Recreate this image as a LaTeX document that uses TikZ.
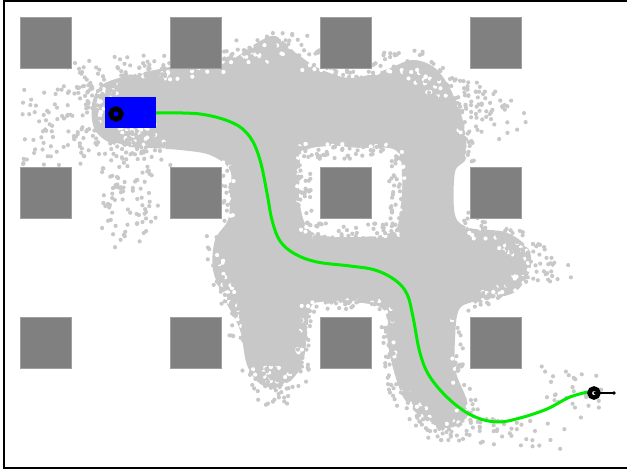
\documentclass[tikz,border=0pt]{standalone}
\definecolor{cloudc}{RGB}{200,200,200}
\definecolor{obst}{RGB}{128,128,128}
\definecolor{obstedge}{RGB}{160,160,160}
\definecolor{pathg}{RGB}{0,235,0}
\definecolor{robotb}{RGB}{0,0,255}
\newcommand\cloudfringe[7][cloudc]{%
  \pgfmathtruncatemacro\cnt{max(1,#7)}%
  \foreach \i in {1,...,\cnt}{%
    \pgfmathsetmacro\myt{rnd}%
    \pgfmathsetmacro\px{#2+(#4-#2)*\myt+(#6)*rand}%
    \pgfmathsetmacro\py{#3+(#5-#3)*\myt+(#6)*rand}%
    \fill[#1] (\px,\py) circle (2.1pt);
  }}
\newcommand\seglist{%
 150/72/240/58/16/60,
 240/55/300/45/16/50,
 300/62/410/65/14/70,
 410/62/460/100/16/45,
 455/95/515/125/18/70,
 460/130/470/160/10/20,
 470/225/530/255/16/55,
 520/240/560/282/14/35,
 530/270/470/305/11/40,
 455/320/458/380/7/22,
 460/395/470/420/12/25,
 420/425/555/438/14/70,
 545/382/598/400/18/30,
 388/310/395/390/8/35,
 395/390/430/425/10/30,
 310/303/385/303/7/40,
 307/305/300/370/8/28,
 250/372/300/380/15/50,
 258/395/290/402/11/15,
 215/240/240/340/11/55,
 228/165/230/220/7/22,
 303/150/398/150/9/50,
 398/150/398/232/9/40,
 398/232/303/232/9/50,
 303/232/303/150/9/40,
 60/125/60/125/40/100,
 90/80/150/150/28/200,
 130/162/130/222/28/90,
 110/65/160/72/10/25}
\begin{document}
\begin{tikzpicture}[x=1pt,y=-1pt]
\useasboundingbox (0,0) rectangle (627,470);
\pgfmathsetseed{7}
% dense cloud
\fill[cloudc] plot[smooth cycle, tension=0.55] coordinates {
 (130,75) (165,68) (200,60) (235,57) (255,44) (275,36) (295,52) (318,68)
 (350,78) (385,70) (412,60) (435,68) (452,92) (464,125) (466,158) (455,172)
 (455,215) (470,228) (505,232) (528,248) (530,270) (515,292) (485,300)
 (460,308) (455,340) (456,372) (466,398) (468,418) (448,428) (425,420)
 (405,400) (395,375) (388,345) (386,315) (375,305) (340,302) (312,305)
 (307,335) (302,365) (285,385) (262,385) (247,365) (240,330) (225,300)
 (213,270) (215,240) (228,220) (230,195) (230,170) (210,155) (180,150)
 (150,148) (115,145) (95,130) (92,105) (102,85)};
% hole around centre obstacle
\fill[white] plot[smooth cycle, tension=0.6] coordinates {
 (303,152) (330,146) (360,148) (395,150) (402,175) (400,210) (392,232)
 (350,237) (312,232) (300,205) (300,175)};
% white speckles along the edges, then grey fringe samples
\foreach \a/\b/\c/\d/\s/\n in \seglist {\cloudfringe[white]{\a}{\b}{\c}{\d}{0.7*\s}{\n/2}}
\foreach \a/\b/\c/\d/\s/\n in \seglist {\cloudfringe{\a}{\b}{\c}{\d}{\s}{\n}}
% obstacles
\foreach \x in {20,170,320,470}
  \foreach \y in {17,167,317}
    \filldraw[fill=obst,draw=obstedge,line width=0.8pt] (\x,\y) rectangle ++(51,51);
% planned path
\draw[pathg, line width=3pt, line cap=round] plot[smooth, tension=0.6] coordinates {
 (156,113) (200,114) (233,123) (250,137) (260,160) (267,193) (272,220)
 (280,241) (295,254) (317,262) (350,266) (375,270) (395,280) (407,294)
 (413,317) (420,353) (430,377) (450,400) (473,416) (497,422) (520,418)
 (547,409) (570,397) (592,391)};
% start robot
\fill[robotb] (105,97) rectangle (156,128);
\coordinate (startc) at (116,114);
\draw[line width=4.8pt] (startc) circle (5.2pt);
% goal
\coordinate (goalc) at (594,393);
\coordinate (goaltip) at (614,393);
\draw[line width=2pt] (goalc) -- (goaltip);
\draw[line width=4.5pt] (goalc) circle (4.5pt);
\fill (goaltip) circle (1.8pt);
% frame
\draw[line width=2pt] (627,0.8) -- (4,0.8) -- (4,467.6) -- (627,467.6);
\end{tikzpicture}
\end{document}
